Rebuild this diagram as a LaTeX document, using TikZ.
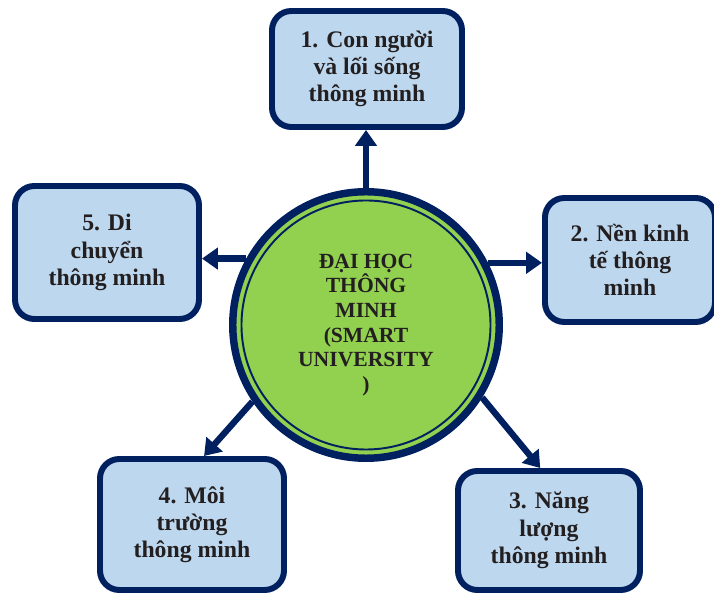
\documentclass[tikz,border=0pt]{standalone}
\usepackage{fontspec}
\setmainfont{Liberation Serif}
\usepackage{tikz}
\usetikzlibrary{arrows.meta,positioning,calc}
\usepackage{xcolor}
\definecolor{sunavy}{HTML}{002060}
\definecolor{sugreen}{HTML}{92D050}
\definecolor{suboxblue}{HTML}{BDD7EE}
\definecolor{sutext}{HTML}{231F20}

\begin{document}
\begin{tikzpicture}[
  area/.style={draw=sunavy,line width=3.4pt,fill=suboxblue,rounded corners=11pt,
    align=center,text=sutext,font=\fontsize{13.5}{15.5}\selectfont\bfseries,inner sep=0pt},
  hub/.style={circle,draw=sunavy,line width=4.25pt,fill=sugreen,minimum size=5.33cm,
    align=center,text=sutext,font=\fontsize{12.3}{14}\selectfont\bfseries,inner sep=0pt},
  link/.style={->,>={Triangle[width=12pt,length=9pt]},line width=3.6pt,sunavy}
]
\useasboundingbox (0,0) rectangle (14.28,11.92);

\node[hub] (uni) at (7.32,5.42) {ĐẠI HỌC\\THÔNG\\MINH\\(SMART\\UNIVERSITY\\)};
\draw[sunavy,line width=1.1pt] (uni.center) circle (2.49cm);

\node[area,minimum width=3.80cm,minimum height=2.32cm] (people)  at (7.34,10.54) {1. Con người\\và lối sống\\thông minh};
\node[area,minimum width=3.40cm,minimum height=2.48cm] (economy) at (12.60,6.72) {2. Nền kinh\\tế thông\\minh};
\node[area,minimum width=3.64cm,minimum height=2.38cm] (energy)  at (10.98,1.31) {3. Năng\\lượng\\thông minh};
\node[area,minimum width=3.68cm,minimum height=2.62cm] (environ) at (3.84,1.43)  {4. Môi\\trường\\thông minh};
\node[area,minimum width=3.68cm,minimum height=2.66cm] (mobility) at (2.14,6.87) {5. Di\\chuyển\\thông minh};

\draw[link] (uni.north) -- (uni.north |- people.south);
\draw[link] (uni.27) -- (uni.27 -| economy.west);
\draw[link] (uni.-32) -- (energy.98);
\draw[link] (uni.214) -- (environ.80);
\draw[link] (uni.151) -- (uni.151 -| mobility.east);
\end{tikzpicture}
\end{document}
